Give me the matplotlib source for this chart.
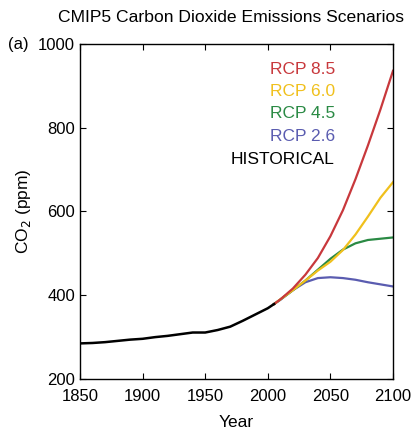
import matplotlib.pyplot as plt

plt.rcParams['font.family'] = ['Liberation Sans', 'DejaVu Sans']

# historical CO2 concentration (ppm)
hist_years = [1850, 1860, 1870, 1880, 1890, 1900, 1910, 1920, 1930, 1940,
              1950, 1960, 1970, 1980, 1990, 2000, 2005]
hist_co2 = [285, 286, 288, 291, 294, 296, 300, 303, 307, 311,
            311, 317, 325, 339, 354, 369, 379]

# RCP scenarios (ppm)
rcp_years = [2005, 2010, 2020, 2030, 2040, 2050, 2060, 2070, 2080, 2090, 2100]
rcp85 = [379, 390, 416, 449, 489, 541, 603, 677, 758, 844, 936]
rcp60 = [379, 390, 412, 435, 459, 480, 508, 545, 588, 633, 670]
rcp45 = [379, 390, 412, 435, 461, 487, 509, 524, 532, 535, 538]
rcp26 = [379, 389, 412, 431, 441, 443, 441, 437, 431, 426, 421]

series = [
    ("RCP 8.5", rcp85, "#c8383c"),
    ("RCP 6.0", rcp60, "#f0c01c"),
    ("RCP 4.5", rcp45, "#2a8a44"),
    ("RCP 2.6", rcp26, "#5a5cb0"),
]

fig = plt.figure(figsize=(4.13, 4.30), dpi=100)
ax = fig.add_axes([80 / 413, 1 - 379 / 430, 313 / 413, 335 / 430])

# draw lower scenarios first so red sits on top like the original
for name, vals, col in reversed(series):
    ax.plot(rcp_years, vals, color=col, lw=1.6)
ax.plot(hist_years, hist_co2, color="black", lw=1.8)

ax.set_xlim(1850, 2100)
ax.set_ylim(200, 1000)
ax.set_xticks([1850, 1900, 1950, 2000, 2050, 2100])
ax.set_yticks([200, 400, 600, 800, 1000])
ax.tick_params(direction="in", top=True, right=True, labelsize=12, length=4)
ax.tick_params(axis="x", pad=7)
for sp in ax.spines.values():
    sp.set_linewidth(1.0)

ax.set_xlabel("Year", fontsize=12.5, labelpad=8)
ax.set_ylabel("CO$_2$ (ppm)", fontsize=12.5, labelpad=4)

labels = [(n, c) for n, _, c in series] + [("HISTORICAL", "black")]
for i, (txt, col) in enumerate(labels):
    ax.text(335 / 413, 1 - (69 + 22.5 * i) / 430, txt, color=col,
            fontsize=12.5, ha="right", va="center", transform=fig.transFigure)

fig.text(231 / 413, 1 - 17 / 430, "CMIP5 Carbon Dioxide Emissions Scenarios",
         ha="center", va="center", fontsize=12.6)
fig.text(8 / 413, 1 - 45 / 430, "(a)", ha="left", va="center", fontsize=12)

fig.savefig("out.png", dpi=100)
